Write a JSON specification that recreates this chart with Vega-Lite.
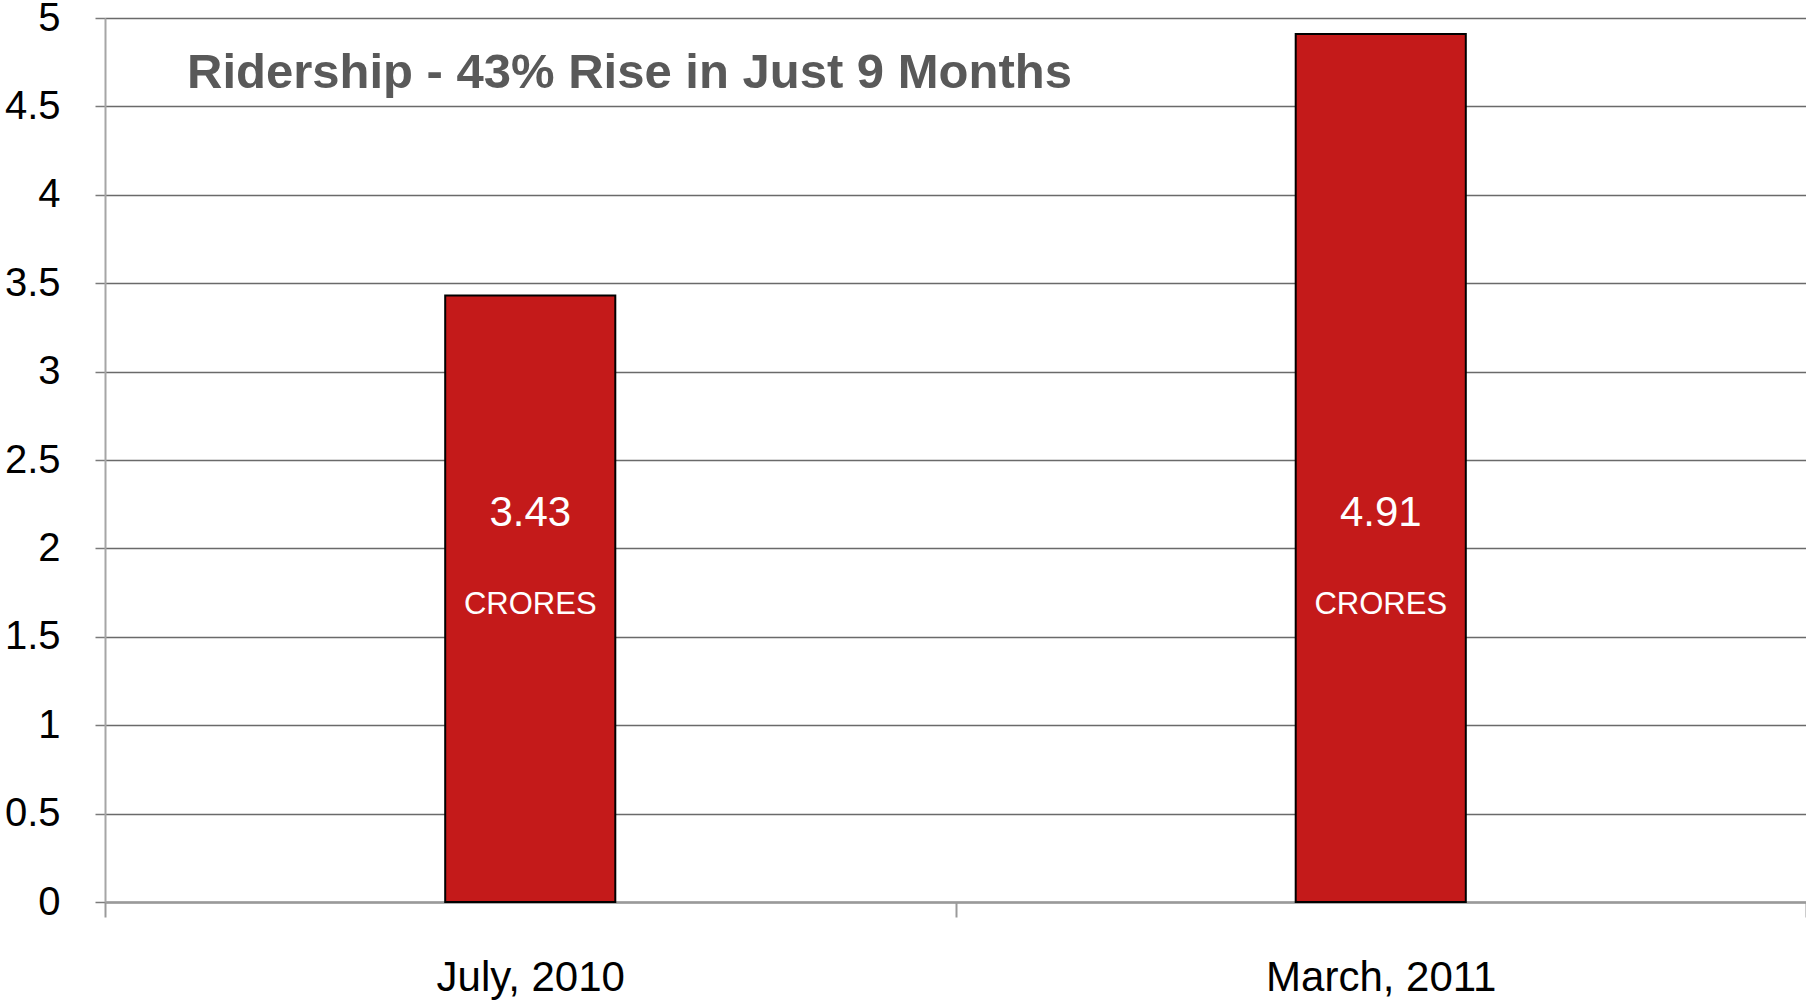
{
  "$schema": "https://vega.github.io/schema/vega-lite/v6.json",
  "width": 1701,
  "height": 884,
  "autosize": "none",
  "padding": {"left": 105, "top": 18, "right": 0, "bottom": 101},
  "background": "white",
  "config": {"view": {"stroke": null}, "font": "Liberation Sans"},
  "title": {
    "text": "Ridership - 43% Rise in Just 9 Months",
    "anchor": "start",
    "frame": "group",
    "offset": -139,
    "dx": 82,
    "baseline": "alphabetic",
    "font": "Liberation Sans",
    "fontSize": 49,
    "fontWeight": "bold",
    "color": "#595959"
  },
  "data": {
    "values": [
      {"period": "July, 2010", "ridership": 3.43},
      {"period": "March, 2011", "ridership": 4.91}
    ]
  },
  "encoding": {
    "x": {
      "field": "period",
      "type": "nominal",
      "sort": null,
      "scale": {"paddingInner": 0, "paddingOuter": 0},
      "axis": {
        "title": null,
        "labelAngle": 0,
        "labelLimit": 0,
        "labelFont": "Liberation Sans",
        "labelFontSize": 42,
        "labelColor": "#000000",
        "labelPadding": 40,
        "tickSize": 15,
        "tickColor": "#9a9a9a",
        "tickWidth": 2,
        "domainColor": "#9a9a9a",
        "domainWidth": 2.5,
        "tickBand": "extent",
        "grid": false
      }
    }
  },
  "layer": [
    {
      "mark": {"type": "bar", "fill": "#c41a1a", "stroke": "#000000", "strokeWidth": 2, "width": {"band": 0.2}},
      "encoding": {
        "y": {
          "field": "ridership",
          "type": "quantitative",
          "scale": {"domain": [0, 5], "nice": false},
          "axis": {
            "title": null,
            "values": [0, 0.5, 1, 1.5, 2, 2.5, 3, 3.5, 4, 4.5, 5],
            "format": ".2~f",
            "labelFont": "Liberation Sans",
            "labelFontSize": 40,
            "labelColor": "#000000",
            "labelPadding": 35,
            "tickSize": 10,
            "tickColor": "#7a7a7a",
            "tickWidth": 1.5,
            "gridColor": "#6a6a6a",
            "gridWidth": 1.5,
            "domainColor": "#a6a6a6",
            "domainWidth": 2
          }
        }
      }
    },
    {
      "mark": {"type": "text", "color": "#ffffff", "fontSize": 42, "font": "Liberation Sans"},
      "encoding": {
        "y": {"datum": 2.2},
        "text": {"field": "ridership", "type": "quantitative", "format": ".2f"}
      }
    },
    {
      "mark": {"type": "text", "color": "#ffffff", "fontSize": 31, "font": "Liberation Sans"},
      "encoding": {
        "y": {"datum": 1.68},
        "text": {"value": "CRORES"}
      }
    }
  ]
}
